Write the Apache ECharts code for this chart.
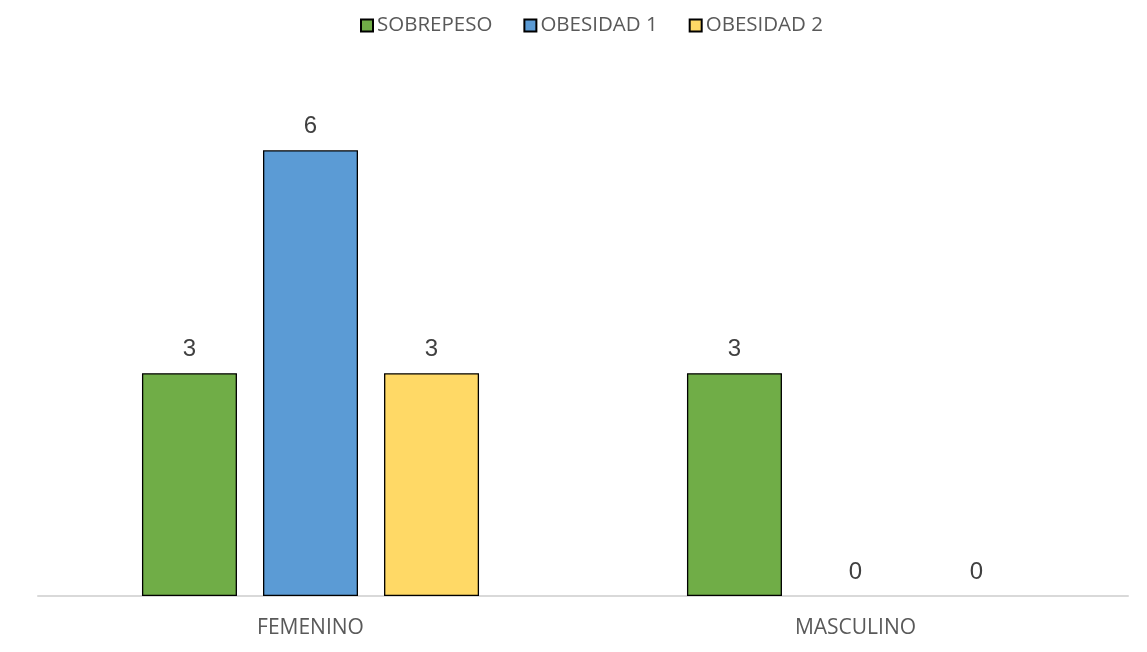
<!DOCTYPE html>
<html>
<head>
<meta charset="utf-8">
<script src="https://cdn.jsdelivr.net/npm/echarts@6/dist/echarts.min.js"></script>
<style>
  html, body { margin: 0; padding: 0; background: #fff; }
  #chart { width: 1147px; height: 652px; }
</style>
</head>
<body>
<div id="chart"></div>
<script>
const categories = ['FEMENINO', 'MASCULINO'];
const seriesNames = ['SOBREPESO', 'OBESIDAD 1', 'OBESIDAD 2'];
const sobrepeso = [3, 3];
const obesidad1 = [6, 0];
const obesidad2 = [3, 0];
const colors = ['#70AD47', '#5B9BD5', '#FFD966'];

const values = [sobrepeso, obesidad1, obesidad2];

const chart = echarts.init(document.getElementById('chart'));
chart.setOption({
  animation: false,
  legend: {
    top: 10,
    left: 355,
    itemWidth: 12,
    itemHeight: 12,
    itemGap: 31,
    textStyle: { color: '#595959', fontSize: 20.5, fontFamily: 'Open Sans', padding: [0, 0, 0, -1] },
    data: seriesNames.map(function (n) { return { name: n, icon: 'rect' }; })
  },
  grid: { left: 38, right: 19, top: 76, bottom: 56, containLabel: false },
  xAxis: {
    type: 'category',
    data: categories,
    axisLine: { lineStyle: { color: '#D9D9D9', width: 2 } },
    axisTick: { show: false },
    axisLabel: { color: '#595959', fontSize: 21, fontFamily: 'Open Sans', margin: 22 }
  },
  yAxis: {
    type: 'value',
    min: 0,
    max: 7,
    show: false,
    splitLine: { show: false }
  },
  series: seriesNames.map(function (name, i) {
    return {
      name: name,
      type: 'bar',
      data: values[i].map(function (v) {
        // zero-height bars get no outline so only the label shows
        return v === 0 ? { value: v, itemStyle: { borderWidth: 0 } } : v;
      }),
      barWidth: 95,
      barGap: '27.4%',
      itemStyle: { color: colors[i], borderColor: '#000', borderWidth: 1.3 },
      label: {
        show: true,
        position: 'top',
        distance: 12,
        color: '#404040',
        fontSize: 24,
        fontFamily: 'Liberation Sans'
      }
    };
  })
});
</script>
</body>
</html>
